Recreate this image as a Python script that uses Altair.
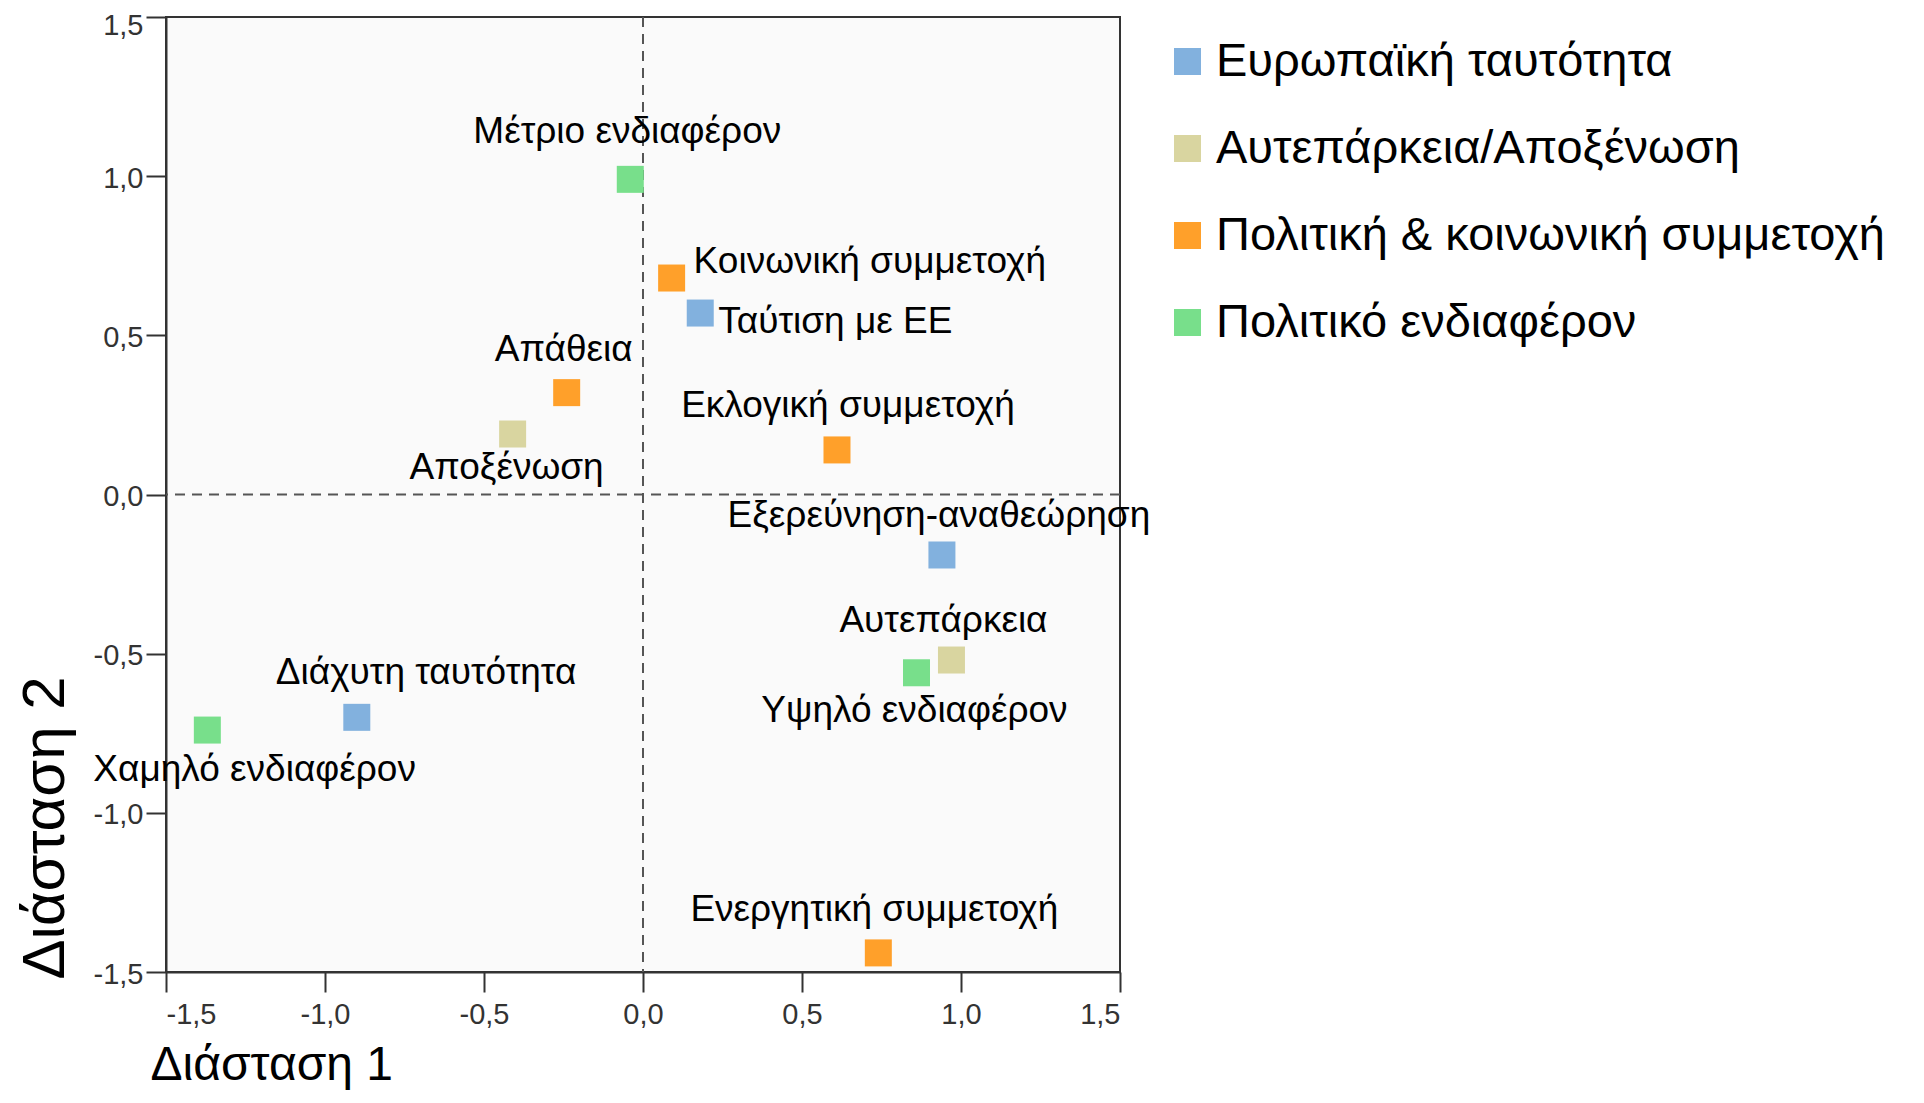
import altair as alt
import pandas as pd

# ---- data ----
LABELS = [
    "Μέτριο ενδιαφέρον",
    "Κοινωνική συμμετοχή",
    "Ταύτιση με ΕΕ",
    "Απάθεια",
    "Αποξένωση",
    "Εκλογική συμμετοχή",
    "Εξερεύνηση-αναθεώρηση",
    "Αυτεπάρκεια",
    "Υψηλό ενδιαφέρον",
    "Διάχυτη ταυτότητα",
    "Χαμηλό ενδιαφέρον",
    "Ενεργητική συμμετοχή",
]
DIM1 = [-0.04, 0.09, 0.18, -0.24, -0.41, 0.61, 0.94, 0.97, 0.86, -0.90, -1.37, 0.74]
DIM2 = [0.99, 0.68, 0.57, 0.32, 0.19, 0.14, -0.19, -0.52, -0.56, -0.70, -0.74, -1.44]
GROUPS = [
    "Πολιτικό ενδιαφέρον",
    "Πολιτική & κοινωνική συμμετοχή",
    "Ευρωπαϊκή ταυτότητα",
    "Πολιτική & κοινωνική συμμετοχή",
    "Αυτεπάρκεια/Αποξένωση",
    "Πολιτική & κοινωνική συμμετοχή",
    "Ευρωπαϊκή ταυτότητα",
    "Αυτεπάρκεια/Αποξένωση",
    "Πολιτικό ενδιαφέρον",
    "Ευρωπαϊκή ταυτότητα",
    "Πολιτικό ενδιαφέρον",
    "Πολιτική & κοινωνική συμμετοχή",
]
GROUP_ORDER = [
    "Ευρωπαϊκή ταυτότητα",
    "Αυτεπάρκεια/Αποξένωση",
    "Πολιτική & κοινωνική συμμετοχή",
    "Πολιτικό ενδιαφέρον",
]
GROUP_COLORS = ["#82B1DE", "#D9D5A0", "#FFA02A", "#78DF8B"]
AXIS_TICKS = [-1.5, -1.0, -0.5, 0.0, 0.5, 1.0, 1.5]
X_TITLE = "Διάσταση 1"
Y_TITLE = "Διάσταση 2"

# label placement relative to its point (pixels)
LABEL_DX = [-3, 22, 18, -3, -6, 11, -3, -8, -2, -81, -114, -4]
LABEL_DY = [-36, -5, 20, -32, 45, -33, -28, -28, 49, -33, 51, -32]
LABEL_ALIGN = ["center", "left", "left", "center", "center", "center",
               "center", "center", "center", "left", "left", "center"]

FONT = "Liberation Sans, Arial, sans-serif"

df = pd.DataFrame({"label": LABELS, "d1": DIM1, "d2": DIM2, "group": GROUPS})
zero_x = pd.DataFrame({"d1": [0.0]})
zero_y = pd.DataFrame({"d2": [0.0]})

label_expr = "(datum.value < 0 ? '-' : '') + replace(format(abs(datum.value), '.1f'), '.', ',')"

common_axis = dict(
    values=AXIS_TICKS,
    labelExpr=label_expr,
    labelFont=FONT,
    labelFontSize=29,
    labelColor="#333333",
    tickSize=20,
    tickWidth=2,
    tickColor="#333333",
    domainColor="#333333",
    domainWidth=2,
    grid=False,
    titleFont=FONT,
    titleFontWeight="normal",
    titleColor="#000000",
    titleAlign="left",
    titleBaseline="alphabetic",
)

x_scale = alt.Scale(domain=[-1.5, 1.5], nice=False, zero=False)
y_scale = alt.Scale(domain=[-1.5, 1.5], nice=False, zero=False)

X = alt.X(
    "d1:Q",
    scale=x_scale,
    title=X_TITLE,
    axis=alt.Axis(labelPadding=8, titleFontSize=48, titleX=-16, titleY=107,
                  titleAngle=0, **common_axis),
)
Y = alt.Y(
    "d2:Q",
    scale=y_scale,
    title=Y_TITLE,
    axis=alt.Axis(
        labelPadding=3,
        labelOffset={"condition": {"test": "datum.value >= 1.5", "value": 8}, "value": 2},
        titleFontSize=60,
        titleX=-103,
        titleY=962,
        titleAngle=270,
        **common_axis,
    ),
)

vrule = alt.Chart(zero_x).mark_rule(
    color="#555555", strokeWidth=2, strokeDash=[10, 7]
).encode(x=X)
hrule = alt.Chart(zero_y).mark_rule(
    color="#555555", strokeWidth=2, strokeDash=[10, 7]
).encode(y=Y)

points = alt.Chart(df).mark_square(size=729, opacity=1, strokeWidth=0).encode(
    x=X,
    y=Y,
    color=alt.Color(
        "group:N",
        scale=alt.Scale(domain=GROUP_ORDER, range=GROUP_COLORS),
        legend=alt.Legend(
            title=None,
            orient="none",
            legendX=998,
            legendY=21,
            symbolType="square",
            symbolSize=729,
            symbolStrokeWidth=0,
            symbolOpacity=1,
            labelFont=FONT,
            labelFontSize=47,
            labelColor="#000000",
            labelLimit=1000,
            labelOffset=5,
            rowPadding=39,
            padding=0,
        ),
    ),
)

texts = []
for i, lab in enumerate(LABELS):
    t = (
        alt.Chart(df)
        .transform_filter(alt.datum.label == lab)
        .mark_text(
            align=LABEL_ALIGN[i],
            baseline="alphabetic",
            dx=LABEL_DX[i],
            dy=LABEL_DY[i],
            font=FONT,
            fontSize=37,
            color="#000000",
        )
        .encode(x=X, y=Y, text="label:N")
    )
    texts.append(t)

chart = (
    alt.layer(vrule, hrule, points, *texts)
    .properties(
        width=954,
        height=955,
        autosize=alt.AutoSizeParams(type="none"),
        padding={"left": 158, "top": 9, "right": 796, "bottom": 118},
    )
    .configure(background="white")
    .configure_view(stroke="#333333", strokeWidth=2, fill="#FAFAFA")
)

chart.save("out.html", embed_options={"renderer": "svg", "actions": False})
